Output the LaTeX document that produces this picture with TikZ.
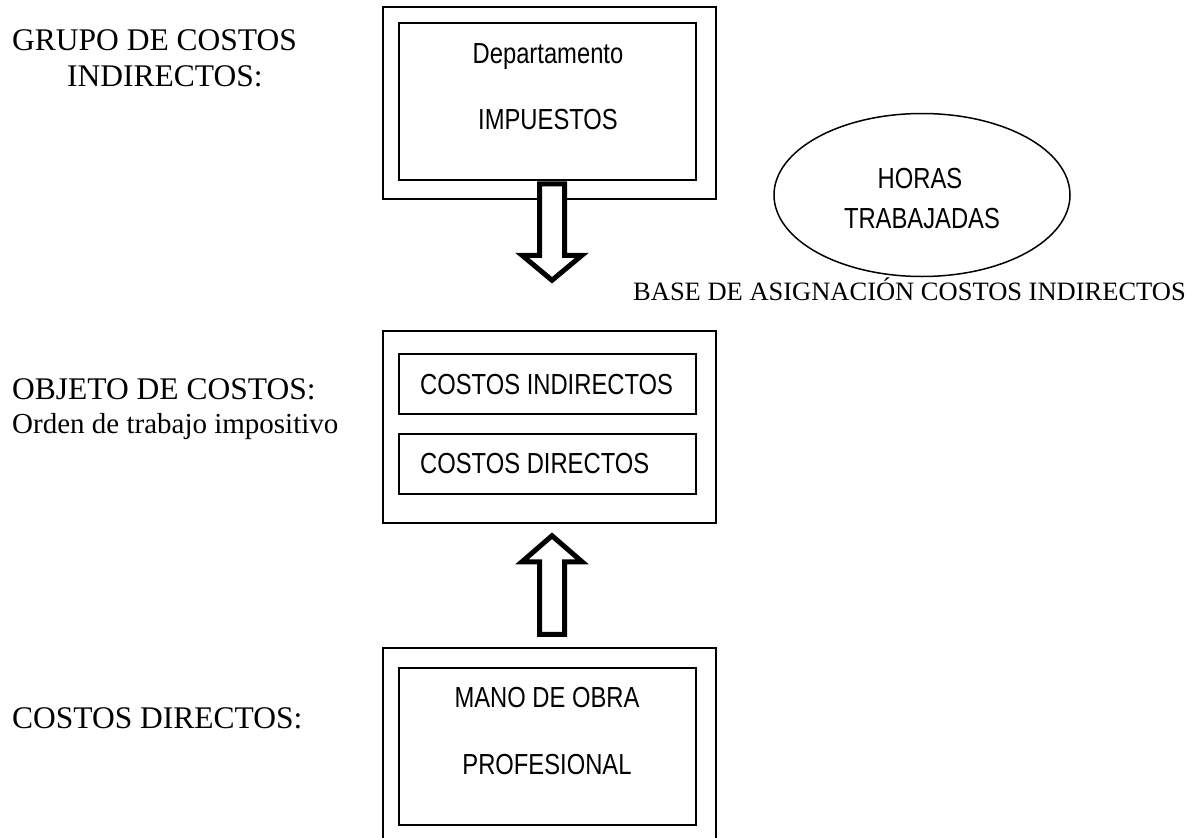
\documentclass[tikz,border=0pt]{standalone}
\usepackage{fontspec}
\setmainfont{Liberation Serif}
\newfontfamily\boxfont[FakeStretch=0.82]{Liberation Sans}
\usetikzlibrary{shapes.geometric,calc}

\begin{document}
\begin{tikzpicture}[x=1pt,y=-1pt,
    box/.style={draw=black, line width=1.5pt, inner sep=0pt},
    boxtext/.style={font=\boxfont\fontsize{29}{33}\selectfont, inner sep=0pt, anchor=base},
    lbl/.style={font=\fontsize{31.5}{36}\selectfont, inner sep=0pt, anchor=base west},
    hollow/.style={draw=black, fill=white, line width=5pt, line join=miter}]
    \useasboundingbox (0,0) rectangle (1197,838);
    \node[box, minimum width=333, minimum height=192] (grupo) at (549.5,103) {};
    \node[box, minimum width=297, minimum height=157] (dpto) at (547.5,101.5) {};
    \node[box, minimum width=333, minimum height=192] (objeto) at (549.5,427) {};
    \node[box, minimum width=297, minimum height=60] (ind) at (547.5,384) {};
    \node[box, minimum width=297, minimum height=60] (dir) at (547.5,464) {};
    \node[box, minimum width=333, minimum height=192] (directos) at (549.5,744) {};
    \node[box, minimum width=297, minimum height=157] (mano) at (547.5,746.5) {};
    \node[box, ellipse, minimum width=296, minimum height=163] (horas) at (922,195) {};
    \node[boxtext] (dptoa) at (548,63) {Departamento};
    \node[boxtext] (dptob) at (548,129) {IMPUESTOS};
    \node[boxtext, anchor=base west] (inda) at (420,394) {COSTOS INDIRECTOS};
    \node[boxtext, anchor=base west] (dira) at (420,473) {COSTOS DIRECTOS};
    \node[boxtext] (manoa) at (547,707) {MANO DE OBRA};
    \node[boxtext] (manob) at (547,774) {PROFESIONAL};
    \node[boxtext] (horasa) at (920,188) {HORAS};
    \node[boxtext] (horasb) at (922,228) {TRABAJADAS};
    \node[lbl, font=\fontsize{26.5}{30}\selectfont] (base) at (633,300.5) {BASE DE ASIGNACIÓN COSTOS INDIRECTOS};
    \node[lbl] (grupoa) at (12,50) {GRUPO DE COSTOS};
    \node[lbl] (grupob) at (67,86) {INDIRECTOS:};
    \node[lbl] (objetoa) at (12,399) {OBJETO DE COSTOS:};
    \node[lbl, font=\fontsize{29}{33}\selectfont] (objetob) at (12,433) {Orden de trabajo impositivo};
    \node[lbl] (directosa) at (12,728) {COSTOS DIRECTOS:};
    % flechas
    \coordinate (dntop) at ($(dpto.south)+(4.5,3)$);
    \coordinate (dntip) at ($(objeto.north)+(2.5,-50)$);
    \draw[hollow] ($(dntop)+(-12.5,0)$) -- ($(dntip)+(-12.5,-25)$) -- ($(dntip)+(-30,-25)$)
      -- (dntip) -- ($(dntip)+(30,-25)$) -- ($(dntip)+(12.5,-25)$) -- ($(dntop)+(12.5,0)$) -- cycle;
    \coordinate (uptip) at ($(objeto.south)+(2.5,12)$);
    \coordinate (upbot) at ($(directos.north)+(2.5,-13)$);
    \draw[hollow] ($(upbot)+(-12.5,0)$) -- ($(uptip)+(-12.5,26)$) -- ($(uptip)+(-30,26)$)
      -- (uptip) -- ($(uptip)+(30,26)$) -- ($(uptip)+(12.5,26)$) -- ($(upbot)+(12.5,0)$) -- cycle;
  \end{tikzpicture}
\end{document}
